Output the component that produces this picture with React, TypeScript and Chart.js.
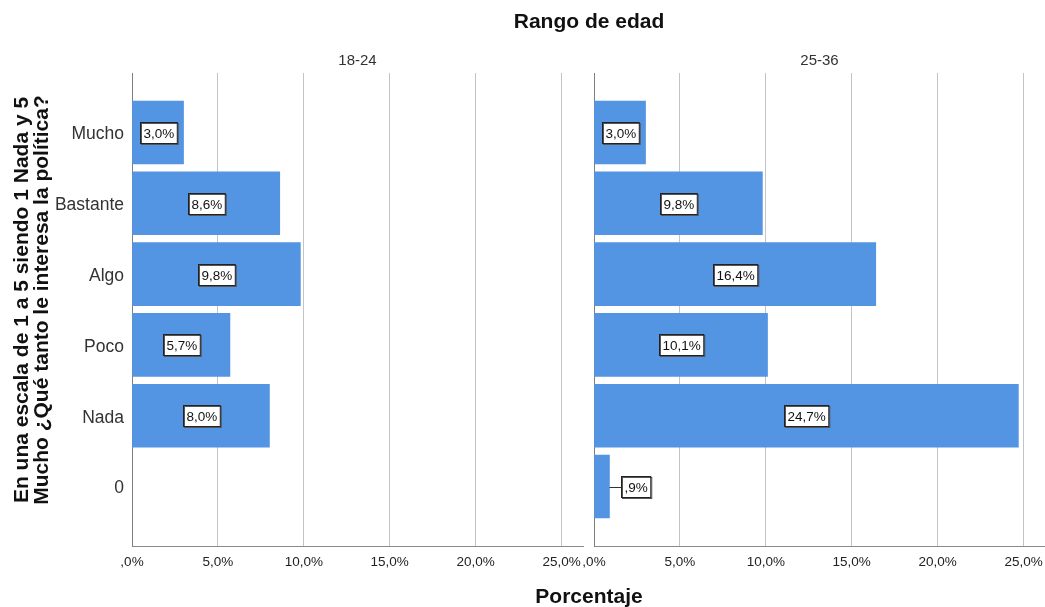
import React, { useEffect, useRef } from 'react';
import { Chart, registerables } from 'chart.js';

Chart.register(...registerables);

const categories = ['Mucho', 'Bastante', 'Algo', 'Poco', 'Nada', '0'];
const panelTitles = ['18-24', '25-36'];
const values1824: (number | null)[] = [3.0, 8.6, 9.8, 5.7, 8.0, null];
const values2536: (number | null)[] = [3.0, 9.8, 16.4, 10.1, 24.7, 0.9];
const xTicks = [0, 5, 10, 15, 20, 25];
const xMax = 26.25;
const mainTitle = 'Rango de edad';
const xTitle = 'Porcentaje';
const yTitleLines = [
  'En una escala de 1 a 5 siendo 1 Nada y 5',
  'Mucho ¿Qué tanto le interesa la política?',
];

const FONT = '"Liberation Sans", Arial, sans-serif';
const BAR = '#5394e3';

function fmt(v: number): string {
  let s = v.toFixed(1).replace('.', ',');
  if (s.startsWith('0,')) s = s.slice(1);
  return s + '%';
}

const labelPlugin = {
  id: 'boxLabels',
  afterDatasetsDraw(chart: any) {
    const ctx = chart.ctx;
    const meta = chart.getDatasetMeta(0);
    const ds = chart.data.datasets[0];
    ctx.save();
    ctx.font = `13.5px ${FONT}`;
    ctx.textAlign = 'center';
    ctx.textBaseline = 'middle';
    meta.data.forEach((el: any, i: number) => {
      const raw = ds.data[i];
      if (!raw) return;
      const text = fmt(raw.x);
      const tw = ctx.measureText(text).width;
      const w = tw + 6;
      const h = 21;
      const len = el.x - el.base;
      let cx: number;
      if (len > w + 6) {
        cx = (el.x + el.base) / 2;
      } else {
        const left = el.x + 12;
        cx = left + w / 2;
        ctx.strokeStyle = '#333';
        ctx.lineWidth = 1;
        ctx.beginPath();
        ctx.moveTo(el.x, Math.round(el.y) + 0.5);
        ctx.lineTo(left, Math.round(el.y) + 0.5);
        ctx.stroke();
      }
      const bx = Math.round(cx - w / 2) + 0.5;
      const by = Math.round(el.y - h / 2) + 0.5;
      ctx.fillStyle = '#ffffff';
      ctx.fillRect(bx, by, w, h);
      ctx.strokeStyle = '#555';
      ctx.lineWidth = 1;
      ctx.strokeRect(bx + 1, by + 1, w, h);
      ctx.strokeStyle = '#222';
      ctx.strokeRect(bx, by, w, h);
      ctx.fillStyle = '#111';
      ctx.fillText(text, bx + w / 2, by + h / 2 + 1);
    });
    ctx.restore();
  },
};

const panelTitlePlugin = {
  id: 'panelTitle',
  afterDraw(chart: any, _args: any, opts: any) {
    const ctx = chart.ctx;
    const a = chart.chartArea;
    ctx.save();
    ctx.font = `15px ${FONT}`;
    ctx.fillStyle = '#333';
    ctx.textAlign = 'center';
    ctx.textBaseline = 'middle';
    ctx.fillText(opts.text, (a.left + a.right) / 2, 61);
    if (opts.main) {
      ctx.fillStyle = '#111';
      ctx.font = `bold 21px ${FONT}`;
      ctx.textBaseline = 'alphabetic';
      ctx.fillText(mainTitle, 589, 28);
      ctx.fillText(xTitle, 589, 603);
      const xs = [28, 48];
      yTitleLines.forEach((line, i) => {
        ctx.save();
        ctx.translate(xs[i], 300);
        ctx.rotate(-Math.PI / 2);
        ctx.fillText(line, 0, 0);
        ctx.restore();
      });
    }
    ctx.restore();
  },
};

function makeConfig(values: (number | null)[], idx: number): any {
  const isLeft = idx === 0;
  const points = values
    .map((v, i) => (v == null ? null : { x: v, y: i }))
    .filter((p) => p !== null);
  return {
    type: 'bar',
    data: {
      datasets: [
        {
          data: points,
          backgroundColor: BAR,
          borderWidth: 0,
          barThickness: 63,
        },
      ],
    },
    plugins: [labelPlugin, panelTitlePlugin],
    options: {
      indexAxis: 'y',
      animation: false,
      responsive: false,
      maintainAspectRatio: false,
      devicePixelRatio: 1,
      layout: {
        padding: isLeft
          ? { left: 0, top: 73, right: 1045 - 583, bottom: 31 }
          : { left: 594, top: 73, right: 0, bottom: 31 },
      },
      plugins: {
        legend: { display: false },
        tooltip: { enabled: false },
        title: { display: false },
        panelTitle: { text: panelTitles[idx], main: isLeft },
      },
      scales: {
        x: {
          type: 'linear',
          min: 0,
          max: xMax,
          afterBuildTicks: (s: any) => {
            s.ticks = xTicks.map((v) => ({ value: v }));
          },
          afterFit: (s: any) => {
            s.height = 30;
            s.paddingLeft = 0;
            s.paddingRight = 0;
          },
          ticks: {
            callback: (v: any) => fmt(Number(v)),
            font: { family: FONT, size: 13.5 },
            color: '#222',
            padding: 8,
            maxRotation: 0,
            autoSkip: false,
          },
          grid: { color: '#c4c4c4', lineWidth: 1, drawTicks: false },
          border: { display: true, color: '#8a8a8a', width: 1 },
        },
        y: {
          type: 'linear',
          reverse: true,
          offset: false,
          min: -0.84,
          max: 5.84,
          afterBuildTicks: (s: any) => {
            s.ticks = categories.map((_, i) => ({ value: i }));
          },
          afterFit: (s: any) => {
            s.width = isLeft ? 132 : 0;
            s.paddingTop = 0;
            s.paddingBottom = 0;
          },
          ticks: {
            display: isLeft,
            callback: (v: any) => categories[Number(v)] ?? '',
            font: { family: FONT, size: 17.5 },
            color: '#333',
            padding: 8,
            labelOffset: 2,
            autoSkip: false,
          },
          grid: { display: false, drawTicks: false, offset: false },
          border: { display: true, color: '#7f7f7f', width: 1 },
        },
      },
    },
  };
}

function Panel({ values, idx }: { values: (number | null)[]; idx: number }) {
  const ref = useRef<HTMLCanvasElement | null>(null);
  useEffect(() => {
    if (!ref.current) return;
    const chart = new Chart(ref.current, makeConfig(values, idx));
    return () => chart.destroy();
  }, [values, idx]);
  return (
    <canvas
      ref={ref}
      width={1045}
      height={607}
      style={{ position: 'absolute', left: 0, top: 0, width: 1045, height: 607 }}
    />
  );
}

export default function App() {
  return (
    <div
      style={{
        position: 'absolute',
        left: 0,
        top: 0,
        width: 1045,
        height: 607,
        background: '#ffffff',
        overflow: 'hidden',
      }}
    >
      <Panel values={values1824} idx={0} />
      <Panel values={values2536} idx={1} />
    </div>
  );
}
